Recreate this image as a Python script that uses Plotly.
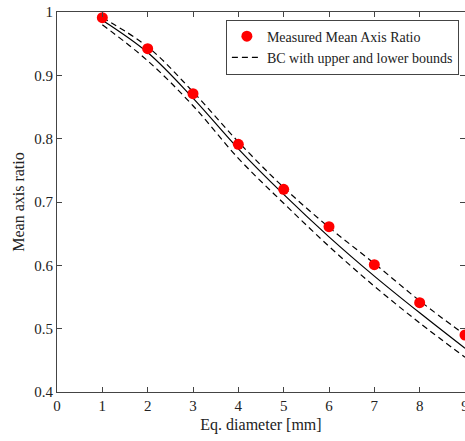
import plotly.graph_objects as go

# equivalent diameter [mm]
diam = [1, 2, 3, 4, 5, 6, 7, 8, 9]
# measured mean axis ratio
measured = [0.991, 0.942, 0.871, 0.791, 0.720, 0.661, 0.601, 0.541, 0.490]
# BC curve and its bounds
bc_mid = [0.987, 0.936, 0.864, 0.784, 0.712, 0.645, 0.583, 0.525, 0.469]
bc_upper = [0.991, 0.945, 0.874, 0.795, 0.723, 0.660, 0.603, 0.544, 0.490]
bc_lower = [0.980, 0.923, 0.852, 0.769, 0.698, 0.630, 0.567, 0.509, 0.455]

font_name = "Liberation Serif"

fig = go.Figure()

fig.add_trace(go.Scatter(
    x=diam, y=bc_mid, mode='lines', line=dict(color='black', width=1.2, shape='spline'),
    showlegend=False))
fig.add_trace(go.Scatter(
    x=diam, y=bc_upper, mode='lines',
    line=dict(color='black', width=1.2, dash='6px,4px', shape='spline'), showlegend=False))
fig.add_trace(go.Scatter(
    x=diam, y=bc_lower, mode='lines',
    line=dict(color='black', width=1.2, dash='6px,4px', shape='spline'), showlegend=False))
fig.add_trace(go.Scatter(
    x=diam, y=measured, mode='markers', name='Measured Mean Axis Ratio',
    marker=dict(color='red', size=11, symbol='circle'), cliponaxis=False))
# legend entry for the dashed bounds
fig.add_trace(go.Scatter(
    x=[None], y=[None], mode='lines', name='BC with upper and lower bounds',
    line=dict(color='black', width=1.2, dash='6px,4px')))

axis_style = dict(
    showline=True, linecolor='#444', linewidth=1, mirror='ticks',
    ticks='inside', ticklen=5, tickcolor='#444', showgrid=False, zeroline=False,
    automargin=False, ticklabeloverflow='allow',
    tickfont=dict(family=font_name, size=15, color='#222'),
)

fig.update_xaxes(range=[0, 9], dtick=1, title=dict(text='Eq. diameter [mm]', standoff=5,
                 font=dict(family=font_name, size=16, color='#222')), **axis_style)
fig.update_yaxes(range=[0.4, 1], dtick=0.1, title=dict(text='Mean axis ratio', standoff=5,
                 font=dict(family=font_name, size=16, color='#222')), **axis_style)

fig.update_layout(
    width=465, height=441,
    margin=dict(l=57, r=0, t=12, b=49),
    plot_bgcolor='white', paper_bgcolor='white',
    font=dict(family=font_name, color='#222'),
    legend=dict(x=0.985, y=0.98, xanchor='right', yanchor='top',
                bgcolor='white', bordercolor='#444', borderwidth=1,
                font=dict(family=font_name, size=14, color='#222'),
                tracegroupgap=0, itemwidth=30),
)

# drop the default page margin so the figure sits at the window's corner
fig.write_html("out.html", config={'displayModeBar': False},
               post_script="document.body.style.margin='0';")
